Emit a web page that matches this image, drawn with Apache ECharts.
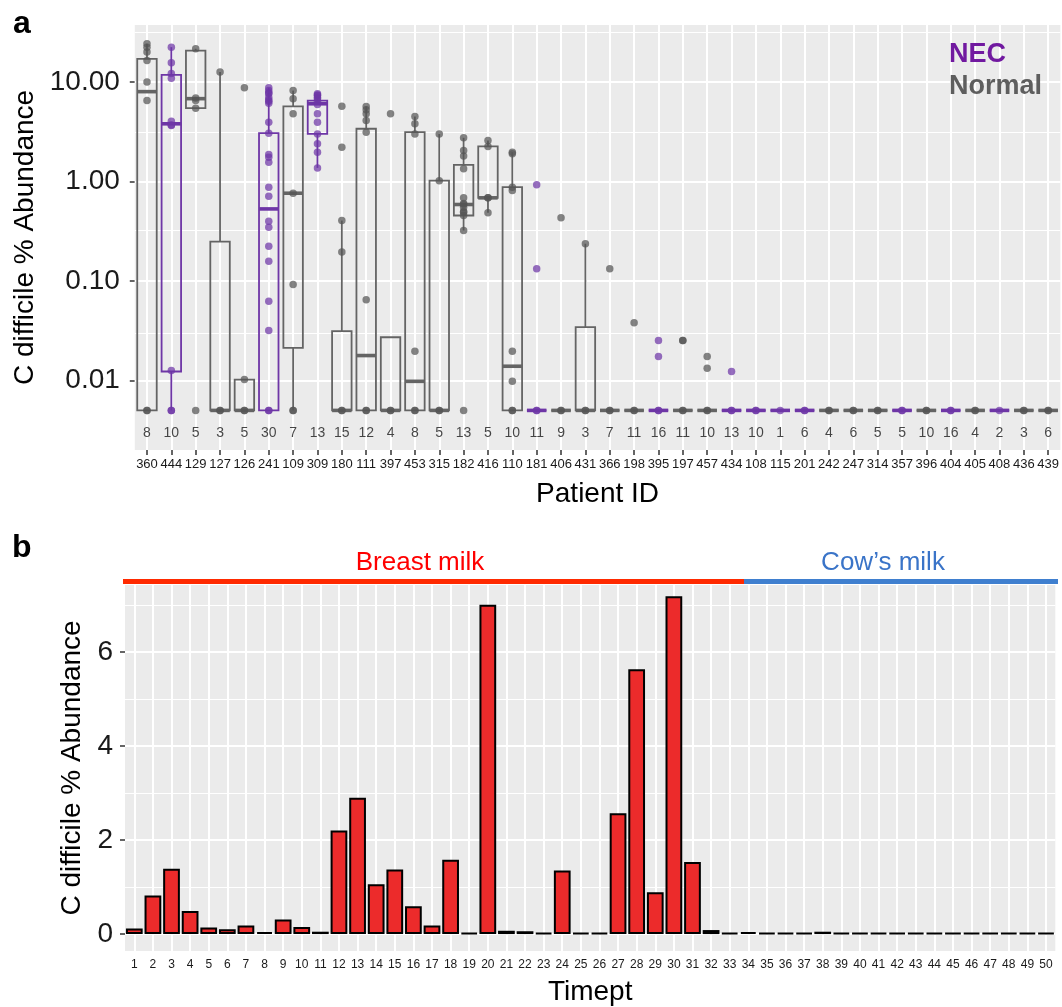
<!DOCTYPE html>
<html>
<head>
<meta charset="utf-8">
<script src="https://cdn.jsdelivr.net/npm/echarts@6/dist/echarts.min.js"></script>
<style>
html,body{margin:0;padding:0;background:#fff;}
#chart{width:1062px;height:1007px;}
</style>
</head>
<body>
<div id="chart"></div>
<script>
// ---------------- Panel a data ----------------
const PATIENT_IDS = ['360','444','129','127','126','241','109','309','180','111','397','453','315','182','416','110','181','406','431','366','198','395','197','457','434','108','115','201','242','247','314','357','396','404','405','408','436','439'];
const SAMPLE_COUNTS = [8,10,5,3,5,30,7,13,15,12,4,8,5,13,5,10,11,9,3,7,11,16,11,10,13,10,1,6,4,6,5,5,10,16,4,2,3,6];
const GROUPS = ['Normal','NEC','Normal','Normal','Normal','NEC','Normal','NEC','Normal','Normal','Normal','Normal','Normal','Normal','Normal','Normal','NEC','Normal','Normal','Normal','Normal','NEC','Normal','Normal','NEC','NEC','NEC','NEC','Normal','Normal','Normal','NEC','Normal','NEC','Normal','NEC','Normal','Normal'];
const Z = 0.005; // floor value used for zero abundance
const BOX_LOW  = [Z,Z,5.46,Z,Z,Z,Z,1.37,Z,Z,Z,Z,Z,0.322,0.484,Z,Z,Z,Z,Z,Z,Z,Z,Z,Z,Z,Z,Z,Z,Z,Z,Z,Z,Z,Z,Z,Z,Z];
const BOX_Q1   = [Z,0.0123,5.46,Z,Z,Z,0.0213,3.01,Z,Z,Z,Z,Z,0.455,0.685,Z,Z,Z,Z,Z,Z,Z,Z,Z,Z,Z,Z,Z,Z,Z,Z,Z,Z,Z,Z,Z,Z,Z];
const BOX_MED  = [8.0,3.8,6.8,Z,Z,0.53,0.762,6.04,Z,0.0178,Z,0.0098,Z,0.587,0.685,0.0139,Z,Z,Z,Z,Z,Z,Z,Z,Z,Z,Z,Z,Z,Z,Z,Z,Z,Z,Z,Z,Z,Z];
const BOX_Q3   = [17.1,11.8,20.7,0.249,0.0102,3.06,5.68,6.5,0.0313,3.39,0.0272,3.13,1.02,1.47,2.25,0.877,Z,Z,0.0343,Z,Z,Z,Z,Z,Z,Z,Z,Z,Z,Z,Z,Z,Z,Z,Z,Z,Z,Z];
const BOX_HIGH = [24.2,22.4,21.6,12.6,0.0102,8.75,8.2,7.6,0.405,5.68,0.0272,4.5,3.0,2.75,2.58,1.97,Z,Z,0.237,Z,Z,Z,Z,Z,Z,Z,Z,Z,Z,Z,Z,Z,Z,Z,Z,Z,Z,Z];
const POINTS = [
  [24.2,22.4,20.0,16.4,10.0,6.5,Z,Z],
  [22.4,15.6,12.2,10.9,4.04,3.7,3.66,0.0126,Z,Z],
  [21.6,6.9,6.5,5.46,Z],
  [12.6,Z,Z],
  [8.75,0.0102,Z,Z],
  [8.75,8.2,7.8,7.6,7.0,6.6,6.4,6.1,3.94,3.06,1.87,1.75,1.56,0.877,0.711,0.399,0.347,0.224,0.158,0.0627,0.0318,Z,Z],
  [8.2,6.8,4.79,0.762,0.0923,Z,Z],
  [7.6,7.4,7.3,7.0,6.8,6.4,5.94,4.79,3.94,3.0,2.39,1.97,1.37],
  [5.71,2.21,0.405,0.195,Z,Z],
  [5.68,5.26,4.8,4.1,3.13,0.0647,Z,Z],
  [4.79,Z,Z],
  [4.5,3.8,3.0,0.0197,Z,Z],
  [3.0,1.02,Z,Z],
  [2.75,2.05,1.8,1.34,0.685,0.6,0.587,0.552,0.5,0.491,0.455,0.322,Z],
  [2.58,2.25,0.685,0.685,0.484],
  [1.97,1.9,0.877,0.81,0.0197,0.0098,Z,Z],
  [0.927,0.133,Z,Z],
  [0.431,Z,Z],
  [0.237,Z,Z],
  [0.133,Z,Z],
  [0.038,Z,Z],
  [0.0252,0.0174,Z,Z],
  [0.0252,0.0252,Z,Z],
  [0.0174,0.0133,Z,Z],
  [0.0123,Z,Z],
  [Z,Z],[Z],[Z,Z],[Z,Z],[Z,Z],[Z,Z],[Z,Z],[Z,Z],[Z,Z],[Z,Z],[Z],[Z,Z],[Z,Z]
];
const COUNT_LABEL_Y = 0.00295;
const Y_MAJOR_A = [0.01, 0.1, 1, 10];
const Y_MINOR_A = [0.00316, 0.0316, 0.316, 3.16, 31.6];

// ---------------- Panel b data ----------------
const TIMEPTS = ['1','2','3','4','5','6','7','8','9','10','11','12','13','14','15','16','17','18','19','20','21','22','23','24','25','26','27','28','29','30','31','32','33','34','35','36','37','38','39','40','41','42','43','44','45','46','47','48','49','50'];
const ABUNDANCE = [0.12,0.82,1.39,0.49,0.14,0.10,0.18,0.04,0.31,0.15,0.05,2.20,2.90,1.06,1.37,0.59,0.18,1.58,0.02,7.00,0.07,0.06,0.01,1.35,0,0,2.57,5.63,0.89,7.18,1.53,0.085,0.01,0.04,0.01,0.01,0.01,0.05,0,0,0.005,0.005,0.005,0,0.02,0.005,0,0,0,0];
const Y_MAJOR_B = [0, 2, 4, 6];
const Y_MINOR_B = [1, 3, 5, 7];

// ---------------- styles ----------------
const FONT = '"Liberation Sans", Arial, Helvetica, sans-serif';
const NEC_COL = '#6e36a6';
const NORM_COL = '#646464';
const PANEL_BG = '#ebebeb';

const boxData = PATIENT_IDS.map((id, i) => [i, BOX_LOW[i], BOX_Q1[i], BOX_MED[i], BOX_Q3[i], BOX_HIGH[i], GROUPS[i] === 'NEC' ? 1 : 0]);
const necPts = [], normPts = [];
POINTS.forEach((arr, i) => arr.forEach(v => (GROUPS[i] === 'NEC' ? necPts : normPts).push([i, v])));
const countData = SAMPLE_COUNTS.map((c, i) => [i, COUNT_LABEL_Y, c]);

function gridLines(vals, axisKey, width) {
  return vals.map(v => ({ [axisKey]: v, lineStyle: { color: '#ffffff', width: width, type: 'solid' } }));
}

const chart = echarts.init(document.getElementById('chart'), null, { renderer: 'canvas' });
const axisTickStyle = { color: '#333333', width: 1.5 };

chart.setOption({
  animation: false,
  textStyle: { fontFamily: FONT },
  grid: [
    { left: 134.8, top: 25, right: -0.2, height: 425, show: true, backgroundColor: PANEL_BG, borderWidth: 0, z: 0 },
    { left: 125, top: 585, width: 930.3, height: 368, show: true, backgroundColor: PANEL_BG, borderWidth: 0, z: 0 }
  ],
  xAxis: [
    {
      type: 'category', gridIndex: 0, data: PATIENT_IDS, boundaryGap: true,
      axisLine: { show: false },
      axisTick: { show: true, alignWithLabel: true, interval: 0, length: 5, lineStyle: axisTickStyle },
      axisLabel: { interval: 0, margin: 8, fontSize: 13, color: '#1a1a1a', fontFamily: FONT },
      splitLine: { show: false },
      name: 'Patient ID', nameLocation: 'middle', nameGap: 30,
      nameTextStyle: { fontSize: 28, color: '#000', fontFamily: FONT }
    },
    {
      type: 'category', gridIndex: 1, data: TIMEPTS, boundaryGap: true,
      axisLine: { show: false },
      axisTick: { show: true, alignWithLabel: true, interval: 0, length: 5, lineStyle: axisTickStyle },
      axisLabel: { interval: 0, margin: 8, fontSize: 12, color: '#1a1a1a', fontFamily: FONT },
      splitLine: { show: false },
      name: 'Timept', nameLocation: 'middle', nameGap: 27,
      nameTextStyle: { fontSize: 28, color: '#000', fontFamily: FONT }
    }
  ],
  yAxis: [
    {
      type: 'log', logBase: 10, gridIndex: 0, min: 0.002, max: 37.4,
      axisLine: { show: false },
      axisTick: { show: true, length: 5, lineStyle: axisTickStyle, customValues: Y_MAJOR_A },
      axisLabel: { customValues: Y_MAJOR_A, formatter: v => Number(v).toFixed(2), fontSize: 28, margin: 15, color: '#1a1a1a', fontFamily: FONT },
      splitLine: { show: false }, minorSplitLine: { show: false },
      name: 'C difficile % Abundance', nameLocation: 'middle', nameGap: 91, nameRotate: 90,
      nameTextStyle: { fontSize: 28, color: '#000', fontFamily: FONT }
    },
    {
      type: 'value', gridIndex: 1, min: -0.36, max: 7.42,
      axisLine: { show: false },
      axisTick: { show: true, length: 5, lineStyle: axisTickStyle, customValues: Y_MAJOR_B },
      axisLabel: { customValues: Y_MAJOR_B, fontSize: 28, margin: 12, color: '#1a1a1a', fontFamily: FONT },
      splitLine: { show: false },
      name: 'C difficile % Abundance', nameLocation: 'middle', nameGap: 27, nameRotate: 90,
      nameTextStyle: { fontSize: 28, color: '#000', fontFamily: FONT }
    }
  ],
  series: [
    // grid lines panel a
    {
      type: 'line', xAxisIndex: 0, yAxisIndex: 0, data: [], z: 1, silent: true,
      markLine: {
        z: 1, silent: true, symbol: ['none', 'none'], label: { show: false }, animation: false,
        data: gridLines(Y_MINOR_A, 'yAxis', 1).concat(gridLines(Y_MAJOR_A, 'yAxis', 2)).concat(gridLines(PATIENT_IDS.map((d, i) => i), 'xAxis', 2))
      }
    },
    // grid lines panel b
    {
      type: 'line', xAxisIndex: 1, yAxisIndex: 1, data: [], z: 1, silent: true,
      markLine: {
        z: 1, silent: true, symbol: ['none', 'none'], label: { show: false }, animation: false,
        data: gridLines(Y_MINOR_B, 'yAxis', 1).concat(gridLines(Y_MAJOR_B, 'yAxis', 2)).concat(gridLines(TIMEPTS.map((d, i) => i), 'xAxis', 2))
      }
    },
    // boxes
    {
      type: 'custom', xAxisIndex: 0, yAxisIndex: 0, z: 3,
      encode: { x: 0, y: [1, 2, 3, 4, 5] },
      data: boxData,
      renderItem: function (params, api) {
        const i = api.value(0);
        const col = api.value(6) === 1 ? NEC_COL : NORM_COL;
        const pLo = api.coord([i, api.value(1)]);
        const pQ1 = api.coord([i, api.value(2)]);
        const pMed = api.coord([i, api.value(3)]);
        const pQ3 = api.coord([i, api.value(4)]);
        const pHi = api.coord([i, api.value(5)]);
        const bw = api.size([1, 0])[0] * 0.8;
        const cx = pQ1[0];
        const lw = 1.8;
        return {
          type: 'group', children: [
            { type: 'line', shape: { x1: cx, y1: pLo[1], x2: cx, y2: pQ1[1] }, style: { stroke: col, lineWidth: lw } },
            { type: 'line', shape: { x1: cx, y1: pQ3[1], x2: cx, y2: pHi[1] }, style: { stroke: col, lineWidth: lw } },
            { type: 'rect', shape: { x: cx - bw / 2, y: pQ3[1], width: bw, height: pQ1[1] - pQ3[1] }, style: { fill: 'rgba(0,0,0,0)', stroke: col, lineWidth: lw } },
            { type: 'line', shape: { x1: cx - bw / 2, y1: pMed[1], x2: cx + bw / 2, y2: pMed[1] }, style: { stroke: col, lineWidth: 3.6 } }
          ]
        };
      }
    },
    {
      type: 'scatter', xAxisIndex: 0, yAxisIndex: 0, z: 4, data: normPts, symbolSize: 7.5,
      itemStyle: { color: '#555555', opacity: 0.72 }
    },
    {
      type: 'scatter', xAxisIndex: 0, yAxisIndex: 0, z: 4, data: necPts, symbolSize: 7.5,
      itemStyle: { color: '#6e36a6', opacity: 0.72 }
    },
    {
      type: 'scatter', xAxisIndex: 0, yAxisIndex: 0, z: 4, data: countData, symbolSize: 1,
      itemStyle: { color: 'rgba(0,0,0,0)' },
      labelLayout: { hideOverlap: false },
      label: { show: true, position: 'inside', formatter: p => String(p.data[2]), fontSize: 14, color: '#1a1a1a', fontFamily: FONT }
    },
    // bars
    {
      type: 'bar', xAxisIndex: 1, yAxisIndex: 1, z: 3, data: ABUNDANCE, barCategoryGap: '10%', barMinHeight: 1,
      itemStyle: { color: '#ec2b2b', borderColor: '#000000', borderWidth: 2 }
    }
  ],
  graphic: [
    { type: 'text', left: 13, top: 8, z: 10, style: { text: 'a', font: 'bold 32px ' + FONT, fill: '#000' } },
    { type: 'text', left: 12, top: 532, z: 10, style: { text: 'b', font: 'bold 32px ' + FONT, fill: '#000' } },
    { type: 'text', x: 949, y: 55, z: 10, style: { text: 'NEC', font: 'bold 27px ' + FONT, fill: '#7119a0', verticalAlign: 'middle' } },
    { type: 'text', x: 949, y: 87, z: 10, style: { text: 'Normal', font: 'bold 27px ' + FONT, fill: '#5e5e5e', verticalAlign: 'middle' } },
    { type: 'rect', shape: { x: 123, y: 579, width: 621, height: 5 }, style: { fill: '#ff2a00' } },
    { type: 'rect', shape: { x: 744, y: 579, width: 314, height: 5 }, style: { fill: '#3f7fcf' } },
    { type: 'text', x: 420, y: 563, style: { text: 'Breast milk', font: '26px ' + FONT, fill: '#ff0000', align: 'center', verticalAlign: 'middle' } },
    { type: 'text', x: 883, y: 563, style: { text: 'Cow\u2019s milk', font: '26px ' + FONT, fill: '#3a74c8', align: 'center', verticalAlign: 'middle' } }
  ]
});
</script>
</body>
</html>
